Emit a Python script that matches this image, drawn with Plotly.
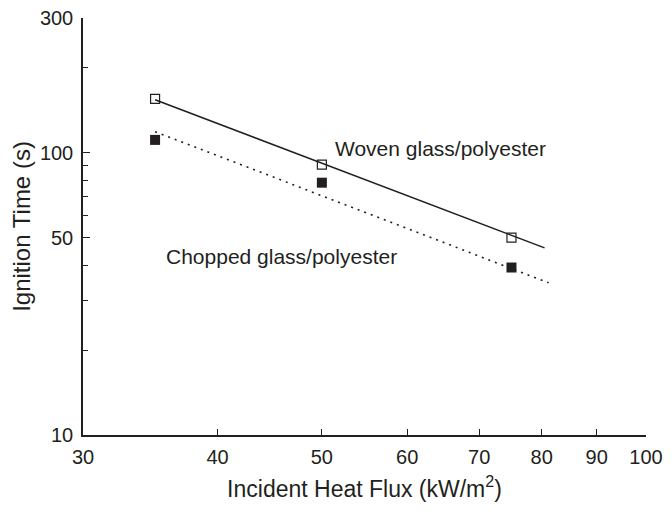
import plotly.graph_objects as go
import math

# Data
heat_flux = [35, 50, 75]
woven_time = [155, 90.7, 50]
chopped_time = [111, 78.3, 39.2]

# Fitted lines (endpoints)
woven_fit_x = [35, 80.5]
woven_fit_y = [154, 46]
chopped_fit_x = [35, 81.2]
chopped_fit_y = [118.7, 34.6]

x_ticks = [30, 40, 50, 60, 70, 80, 90, 100]
x_tick_labels = ["30", "40", "50", "60", "70", "80", "90", "100"]
y_ticks = [10, 50, 100, 300]
y_minor = [20, 30, 40, 60, 70, 80, 90, 200]

FONT = "Liberation Sans, Arial, sans-serif"
INK = "#231f20"

fig = go.Figure()
fig.add_trace(go.Scatter(x=woven_fit_x, y=woven_fit_y, mode="lines",
                         line=dict(color=INK, width=1.5), showlegend=False))
fig.add_trace(go.Scatter(x=chopped_fit_x, y=chopped_fit_y, mode="lines",
                         line=dict(color=INK, width=1.6, dash="2px,5px"), showlegend=False))
fig.add_trace(go.Scatter(x=heat_flux, y=woven_time, mode="markers",
                         marker=dict(symbol="square-open", size=9, color=INK,
                                     line=dict(width=1.2, color=INK)), showlegend=False))
fig.add_trace(go.Scatter(x=heat_flux, y=chopped_time, mode="markers",
                         marker=dict(symbol="square", size=10, color=INK), showlegend=False))

fig.add_annotation(x=0.635, y=0.7194, xref="paper", yref="paper",
                   text="Woven glass/polyester", showarrow=False,
                   font=dict(family=FONT, size=21, color=INK))
fig.add_annotation(x=0.352, y=0.4269, xref="paper", yref="paper",
                   text="Chopped glass/polyester", showarrow=False,
                   font=dict(family=FONT, size=21, color=INK))

fig.update_xaxes(type="log", range=[math.log10(30), 2], automargin=False,
                 tickmode="array", tickvals=x_ticks, ticktext=x_tick_labels,
                 ticks="inside", ticklen=6, tickwidth=1.2, tickcolor=INK,
                 ticklabelstandoff=3, ticklabeloverflow="allow",
                 showline=True, linecolor=INK, linewidth=1.5,
                 showgrid=False, zeroline=False,
                 tickfont=dict(family=FONT, size=20, color=INK),
                 title=dict(text="Incident Heat Flux (kW/m<sup>2</sup>)",
                            font=dict(family=FONT, size=23, color=INK), standoff=14))
fig.update_yaxes(type="log", range=[1, math.log10(300)], automargin=False,
                 tickmode="array", tickvals=y_ticks, ticktext=[str(v) for v in y_ticks],
                 ticks="inside", ticklen=7, tickwidth=1.2, tickcolor=INK,
                 ticklabelstandoff=4, ticklabeloverflow="allow",
                 minor=dict(tickmode="array", tickvals=y_minor, ticks="inside",
                            ticklen=5, tickwidth=1.2, tickcolor=INK, showgrid=False),
                 showline=True, linecolor=INK, linewidth=1.5,
                 showgrid=False, zeroline=False,
                 tickfont=dict(family=FONT, size=20, color=INK),
                 title=dict(text="Ignition Time (s)",
                            font=dict(family=FONT, size=24, color=INK), standoff=14))

# The page body adds an 8px offset; the figure keeps the plot area close to the reference.
fig.update_layout(width=672, height=496,
                  margin=dict(l=75, r=34, t=10, b=69),
                  plot_bgcolor="white", paper_bgcolor="white")

fig.write_html("out.html")
